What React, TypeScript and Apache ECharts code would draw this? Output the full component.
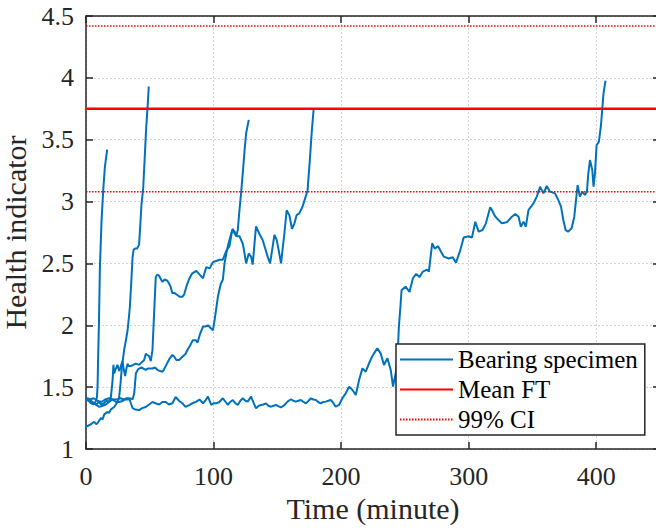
import React, { useEffect, useRef } from "react";
import * as echarts from "echarts";

// Time (minute), health indicator pairs for each bearing specimen
const specimen1: number[][] = [[0,1.40],[2,1.39],[4,1.37],[6,1.36],[7.8,1.39],[8.6,1.42],[9.1,1.52],[9.6,1.78],[10.2,2.04],[10.9,2.47],[12.2,2.85],[13.5,3.09],[14.8,3.28],[16.6,3.42]];

const specimen2: number[][] = [[0,1.18],[2,1.19],[3.9,1.2],[5,1.21],[6.5,1.22],[8,1.2],[9.1,1.21],[11.7,1.25],[13,1.24],[14.3,1.28],[16.9,1.30],[18,1.29],[19.5,1.32],[22.1,1.34],[24.7,1.38],[26,1.42],[27,1.52],[28.1,1.66],[29.9,1.80],[31.3,1.88],[32.6,1.96],[33.5,2.05],[34.4,2.15],[35.5,2.35],[36.5,2.55],[37.3,2.61],[38.5,2.62],[40,2.62],[41.6,2.65],[42.5,2.8],[43.5,2.98],[44.8,3.1],[46,3.35],[47.2,3.6],[48.2,3.75],[49.2,3.93]];

const specimen3: number[][] = [[0,1.40],[2,1.41],[4,1.38],[6,1.37],[8,1.36],[10,1.38],[12,1.36],[14,1.37],[16,1.39],[18,1.38],[19.5,1.42],[20.8,1.55],[21.5,1.68],[22.1,1.61],[23,1.64],[24.7,1.68],[26,1.63],[27,1.66],[28.6,1.71],[29.5,1.65],[30.7,1.59],[31.5,1.64],[32.6,1.69],[33.5,1.67],[35.2,1.67],[37,1.68],[39.1,1.69],[41.7,1.68],[43.5,1.70],[45.6,1.72],[46.9,1.77],[48,1.76],[49.5,1.75],[50.8,1.71],[52.1,1.80],[53.4,2.10],[54.7,2.39],[56,2.41],[57.3,2.40],[59.9,2.35],[61.5,2.37],[63.8,2.36],[65,2.34],[66.4,2.31],[67.7,2.26],[69.5,2.26],[71.6,2.245],[73.4,2.23],[75.5,2.23],[77,2.25],[78.6,2.31],[80.7,2.37],[83.3,2.42],[86.5,2.44],[89.1,2.41],[91.7,2.38],[94.3,2.47],[96.9,2.46],[99.5,2.51],[102,2.52],[104.7,2.53],[107.3,2.53],[109.9,2.60],[112.5,2.64],[114.6,2.77],[116.4,2.76],[117.7,2.72],[119,2.77],[120.3,2.93],[121.6,3.07],[122.9,3.23],[124.2,3.40],[125.5,3.55],[127.6,3.66]];

const specimen4: number[][] = [[0,1.41],[3,1.40],[6,1.41],[9,1.39],[12,1.38],[15,1.40],[18,1.41],[21,1.40],[24,1.40],[27,1.41],[30,1.40],[33,1.40],[35,1.41],[36.5,1.40],[37.8,1.45],[39.1,1.61],[40.5,1.64],[41.7,1.65],[43.5,1.66],[45,1.65],[46.9,1.64],[48.5,1.65],[50,1.65],[52.1,1.65],[54,1.66],[56,1.64],[58,1.63],[59.9,1.625],[61,1.64],[62.5,1.67],[64,1.70],[65.5,1.73],[67.7,1.76],[69,1.75],[70.8,1.72],[72.9,1.72],[75,1.74],[78.1,1.77],[79.5,1.80],[81.3,1.83],[83.8,1.88],[86,1.88],[87.5,1.86],[89.1,1.92],[91.7,1.99],[93.5,1.99],[95.6,2.0],[97.5,1.98],[99.5,1.96],[100.8,2.04],[103.4,2.23],[105.5,2.33],[107.3,2.37],[108.6,2.5],[110,2.58],[111.2,2.64],[113.8,2.74],[115.1,2.78],[116.5,2.74],[118,2.72],[120.3,2.72],[122.9,2.66],[124,2.6],[125.5,2.50],[127.6,2.58],[129.4,2.555],[130.7,2.49],[132,2.65],[133.3,2.80],[135.9,2.74],[138.5,2.69],[140.5,2.62],[142.4,2.555],[144.3,2.50],[146.4,2.64],[147.7,2.73],[149.5,2.69],[151,2.61],[152.9,2.50],[155.5,2.74],[157.3,2.93],[159.4,2.89],[161.5,2.78],[163.3,2.82],[165.1,2.89],[167.2,2.905],[169.8,2.96],[171.9,3.03],[173.7,3.09],[175.5,3.34],[177.1,3.58],[178.4,3.74]];

const specimen5: number[][] = [[0,1.41],[2.5,1.40],[5.2,1.38],[7.5,1.36],[10.4,1.34],[13,1.35],[15.6,1.36],[18,1.38],[20.8,1.40],[23.5,1.38],[26,1.38],[29,1.39],[31.5,1.41],[33.9,1.41],[35.5,1.36],[36.5,1.33],[38.5,1.32],[41.7,1.315],[44,1.33],[46.9,1.34],[49.5,1.36],[52.1,1.38],[54.5,1.37],[57.3,1.36],[59.9,1.38],[62.5,1.38],[65,1.36],[67.7,1.37],[70.3,1.42],[72.9,1.39],[75.5,1.37],[78.1,1.34],[81.3,1.356],[83.5,1.37],[86.5,1.383],[89,1.40],[91.7,1.37],[93.5,1.39],[95.6,1.423],[98.2,1.356],[100,1.37],[102.1,1.369],[104.5,1.38],[107.3,1.41],[109.5,1.38],[111.2,1.356],[113,1.38],[115.1,1.396],[117,1.37],[119,1.356],[121,1.39],[122.9,1.41],[125,1.39],[126.8,1.383],[129.4,1.423],[131.5,1.37],[133.3,1.329],[135.5,1.35],[137.2,1.356],[139,1.36],[141.1,1.369],[143,1.35],[145.1,1.342],[147,1.35],[149,1.356],[151,1.345],[152.9,1.337],[155,1.35],[156.8,1.369],[158.8,1.39],[160.7,1.402],[162.5,1.39],[164.6,1.383],[166.5,1.39],[168.5,1.396],[170.5,1.38],[172.4,1.369],[174.5,1.39],[176.3,1.41],[178.3,1.40],[180.2,1.396],[182,1.38],[184.1,1.369],[186,1.38],[188,1.383],[190,1.39],[191.9,1.396],[194,1.37],[195.8,1.342],[198.4,1.356],[201,1.41],[203.6,1.45],[206.3,1.504],[208.9,1.477],[211.5,1.437],[214.1,1.558],[216.7,1.652],[219.3,1.625],[221.9,1.693],[224,1.74],[225.8,1.773],[228.4,1.814],[231,1.773],[233.6,1.679],[236.3,1.733],[238.9,1.639],[240.7,1.504],[242.8,1.612],[244.5,1.8],[245.3,1.99],[246.5,2.15],[247.4,2.285],[250.5,2.312],[253.6,2.27],[256.3,2.38],[258.8,2.415],[261.5,2.39],[264,2.433],[267.4,2.45],[268.8,2.433],[271.4,2.663],[273.4,2.62],[276,2.64],[278,2.60],[280.5,2.555],[284.4,2.54],[287.5,2.55],[290.1,2.506],[293.5,2.61],[296.1,2.71],[300,2.72],[302.6,2.71],[305.2,2.837],[307.8,2.757],[310.9,2.77],[313.5,2.824],[316.9,2.955],[318.2,2.932],[320.8,2.88],[323.4,2.851],[326,2.824],[329.9,2.832],[333.9,2.878],[336.5,2.9],[339.1,2.878],[340.9,2.797],[343,2.838],[344.8,2.797],[346.9,2.932],[350.8,2.986],[353.4,3.04],[356,3.12],[358.6,3.066],[361.2,3.126],[363.8,3.08],[367.7,3.066],[370.3,3.012],[372.4,2.959],[374.2,2.851],[376,2.77],[378.1,2.757],[380.7,2.784],[382.8,2.878],[383.9,2.986],[385.4,3.134],[387.2,3.04],[389.1,3.08],[391.1,3.053],[392.7,3.08],[393.8,3.228],[395.1,3.336],[396.9,3.255],[397.9,3.12],[399,3.228],[400.3,3.457],[402.1,3.484],[403.6,3.605],[404.7,3.74],[405.7,3.875],[407.3,3.977]];

const specimens = [specimen1, specimen2, specimen3, specimen4, specimen5];

const MEAN_FT = 3.75;
const CI_UPPER = 4.42;
const CI_LOWER = 3.08;

const X_MIN = 0;
const X_MAX = 450;
const X_INTERVAL = 100;
const Y_MIN = 1;
const Y_MAX = 4.5;
const Y_INTERVAL = 0.5;

const legendNames = ["Bearing specimen", "Mean FT", "99% CI"];
const xTitle = "Time (minute)";
const yTitle = "Health indicator";

const FONT = "Liberation Serif";
const AXIS_COLOR = "#262626";
const BLUE = "#0072BD";
const RED = "#ff0000";

export default function App() {
  const ref = useRef<HTMLDivElement>(null);

  useEffect(() => {
    if (!ref.current) return;
    const chart = echarts.init(ref.current, null, { renderer: "svg" });

    const axisLine = { show: true, onZero: false, lineStyle: { color: AXIS_COLOR, width: 1.5 } };
    const axisTick = { show: true, inside: true, length: 7, lineStyle: { color: AXIS_COLOR, width: 1.5 } };
    const splitLine = { show: true, lineStyle: { color: "#d2d2d2", type: [2, 2], width: 1 } };

    const blueSeries = specimens.map((d) => ({
      type: "line",
      name: legendNames[0],
      data: d,
      symbol: "none",
      showSymbol: false,
      smooth: false,
      silent: true,
      lineStyle: { color: BLUE, width: 2 },
      itemStyle: { color: BLUE, opacity: 0 },
      z: 2,
    }));

    const hline = (name: string, v: number, style: any) => ({
      type: "line",
      name,
      data: [[X_MIN, v], [X_MAX, v]],
      symbol: "none",
      showSymbol: false,
      silent: true,
      lineStyle: style,
      itemStyle: { color: style.color, opacity: 0 },
      z: 3,
    });

    const option: any = {
      animation: false,
      backgroundColor: "#ffffff",
      grid: { left: 86, top: 16, right: -4, bottom: 83, containLabel: false, outerBoundsMode: "none" },
      legend: {
        data: legendNames,
        orient: "vertical",
        left: 396,
        top: 344,
        itemWidth: 53,
        itemHeight: 14,
        itemGap: 5,
        padding: [3, 7, 3, 3],
        borderColor: AXIS_COLOR,
        borderWidth: 1.5,
        backgroundColor: "#ffffff",
        selectedMode: false,
        itemStyle: { opacity: 0, borderWidth: 0 },
        textStyle: { fontFamily: FONT, fontSize: 25, color: "#000" },
        z: 10,
      },
      xAxis: [
        {
          type: "value",
          min: X_MIN,
          max: X_MAX,
          interval: X_INTERVAL,
          position: "bottom",
          name: xTitle,
          nameLocation: "middle",
          nameGap: 41,
          nameTextStyle: { fontFamily: FONT, fontSize: 30, color: AXIS_COLOR },
          axisLine,
          axisTick,
          axisLabel: {
            fontFamily: FONT,
            fontSize: 26,
            color: AXIS_COLOR,
            margin: 14,
            formatter: (v: number) => (v > 400 ? "" : String(v)),
          },
          splitLine,
        },
        {
          type: "value",
          min: X_MIN,
          max: X_MAX,
          interval: X_INTERVAL,
          position: "top",
          axisLine,
          axisTick,
          axisLabel: { show: false },
          splitLine: { show: false },
        },
      ],
      yAxis: [
        {
          type: "value",
          min: Y_MIN,
          max: Y_MAX,
          interval: Y_INTERVAL,
          position: "left",
          name: yTitle,
          nameLocation: "middle",
          nameGap: 49,
          nameTextStyle: { fontFamily: FONT, fontSize: 30, color: AXIS_COLOR },
          axisLine,
          axisTick,
          axisLabel: { fontFamily: FONT, fontSize: 26, color: AXIS_COLOR, margin: 12 },
          splitLine,
        },
        {
          type: "value",
          min: Y_MIN,
          max: Y_MAX,
          interval: Y_INTERVAL,
          position: "right",
          axisLine,
          axisTick,
          axisLabel: { show: false },
          splitLine: { show: false },
        },
      ],
      series: [
        ...blueSeries,
        hline(legendNames[1], MEAN_FT, { color: RED, width: 2.5 }),
        hline(legendNames[2], CI_UPPER, { color: RED, width: 1.5, type: [1.5, 1.5] }),
        hline(legendNames[2], CI_LOWER, { color: RED, width: 1.5, type: [1.5, 1.5] }),
      ],
    };

    chart.setOption(option);
    return () => chart.dispose();
  }, []);

  return (
    <div
      ref={ref}
      style={{ position: "fixed", left: 0, top: 0, width: 656, height: 532, background: "#fff" }}
    />
  );
}
